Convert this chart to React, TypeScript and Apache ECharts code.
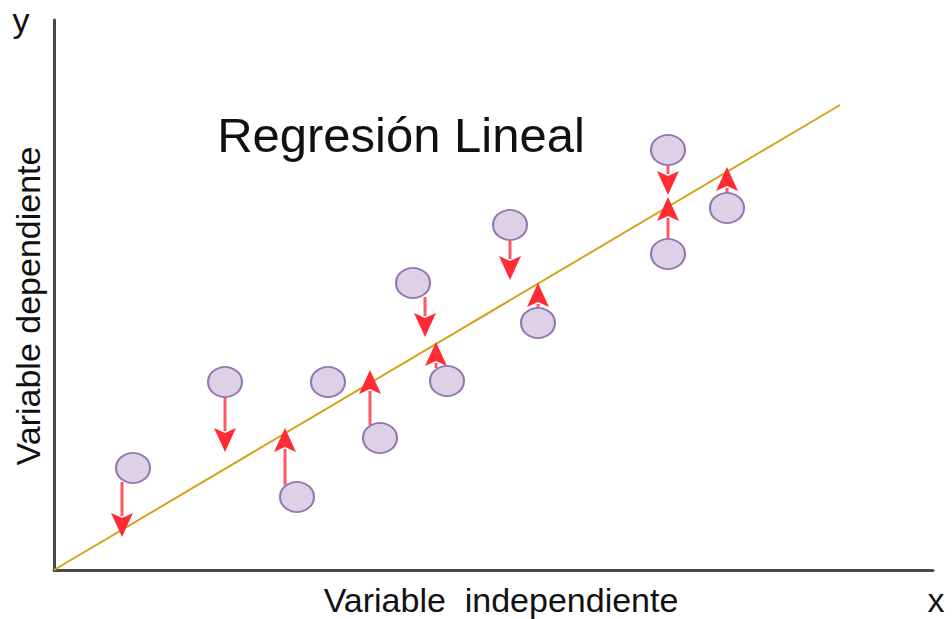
import React, { useEffect, useRef } from "react";
import * as echarts from "echarts";

// Observations (x, y) in plot units
const pointsX = [79, 171, 243, 274, 326, 359, 393, 456, 484, 614, 614, 673];
const pointsY = [102, 188, 73, 188, 132, 287, 189, 345, 247, 420, 316, 362];

// Regression line endpoints
const lineX = [0, 786];
const lineY = [0, 465];

// Residual arrows: x, start y, tip y
const arrowX = [68, 171, 231, 316, 371, 382, 456, 484, 614, 614, 673];
const arrowFrom = [88, 174, 85, 145, 273, 202, 330, 260, 404, 330, 375];
const arrowTo = [33, 118, 142, 200, 233, 228, 290, 287, 375, 373, 403];

const title = "Regresión Lineal";
const xName = "Variable  independiente";
const yName = "Variable dependiente";

export default function App() {
  const ref = useRef<HTMLDivElement>(null);
  useEffect(() => {
    if (!ref.current) return;
    const chart = echarts.init(ref.current, null, { renderer: "svg" });
    const font = "'Liberation Sans', Arial, sans-serif";
    chart.setOption({
      animation: false,
      backgroundColor: "#ffffff",
      grid: { left: 54, top: 20, right: 19, bottom: 49, containLabel: false },
      xAxis: {
        type: "value",
        min: 0,
        max: 879,
        axisLine: { show: true, onZero: false, lineStyle: { color: "#4a4a4a", width: 3 } },
        axisTick: { show: false },
        axisLabel: { show: false },
        splitLine: { show: false },
      },
      yAxis: {
        type: "value",
        min: 0,
        max: 550,
        axisLine: { show: true, onZero: false, lineStyle: { color: "#4a4a4a", width: 3 } },
        axisTick: { show: false },
        axisLabel: { show: false },
        splitLine: { show: false },
      },
      graphic: [
        {
          type: "text",
          x: 401,
          y: 135,
          style: {
            text: title,
            font: `49px ${font}`,
            fill: "#111111",
            textAlign: "center",
            textVerticalAlign: "middle",
          },
        },
        {
          type: "text",
          x: 501,
          y: 600,
          style: {
            text: xName,
            font: `34px ${font}`,
            fill: "#111111",
            textAlign: "center",
            textVerticalAlign: "middle",
          },
        },
        {
          type: "text",
          x: 28,
          y: 306,
          rotation: Math.PI / 2,
          style: {
            text: yName,
            font: `34px ${font}`,
            fill: "#111111",
            textAlign: "center",
            textVerticalAlign: "middle",
          },
        },
        {
          type: "text",
          x: 21,
          y: 20,
          style: { text: "y", font: `34px ${font}`, fill: "#111111", textAlign: "center", textVerticalAlign: "middle" },
        },
        {
          type: "text",
          x: 936,
          y: 600,
          style: { text: "x", font: `34px ${font}`, fill: "#111111", textAlign: "center", textVerticalAlign: "middle" },
        },
      ],
      series: [
        {
          type: "line",
          data: lineX.map((x, i) => [x, lineY[i]]),
          symbol: "none",
          lineStyle: { color: "#d4a21c", width: 2 },
          z: 1,
        },
        {
          type: "custom",
          data: arrowX.map((x, i) => [x, arrowFrom[i], arrowTo[i]]),
          z: 3,
          renderItem: (params: any, api: any) => {
            const x = api.value(0);
            const a = api.coord([x, api.value(1)]);
            const b = api.coord([x, api.value(2)]);
            const dir = b[1] > a[1] ? 1 : -1;
            const headLen = 21;
            const headHalf = 11;
            const baseY = b[1] - dir * headLen;
            return {
              type: "group",
              children: [
                {
                  type: "line",
                  shape: { x1: a[0], y1: a[1], x2: b[0], y2: baseY },
                  style: { stroke: "#ff5a64", lineWidth: 3 },
                },
                {
                  type: "polygon",
                  shape: {
                    points: [
                      [b[0], b[1]],
                      [b[0] - headHalf, baseY - dir * 3],
                      [b[0], baseY + dir * 2],
                      [b[0] + headHalf, baseY - dir * 3],
                    ],
                  },
                  style: { fill: "#ff2b35" },
                },
              ],
            };
          },
        },
        {
          type: "scatter",
          data: pointsX.map((x, i) => [x, pointsY[i]]),
          symbol: "circle",
          symbolSize: [34, 30],
          itemStyle: { color: "#ddd1e7", borderColor: "#9377b0", borderWidth: 2, opacity: 1 },
          z: 4,
        },
      ],
    });
    return () => chart.dispose();
  }, []);
  return (
    <div
      ref={ref}
      style={{ position: "fixed", left: 0, top: 0, width: 952, height: 619 }}
    />
  );
}
